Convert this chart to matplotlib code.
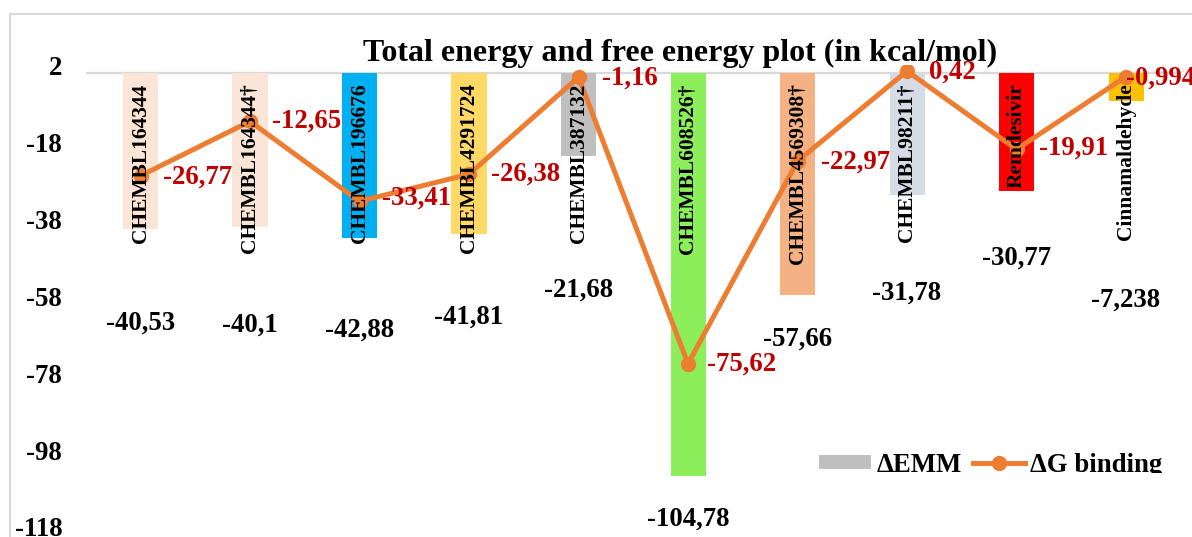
import matplotlib
matplotlib.use("Agg")
import matplotlib.pyplot as plt
from matplotlib.patches import Rectangle, Patch
from matplotlib.lines import Line2D
from matplotlib.transforms import Bbox, TransformedBbox

# ---- data -------------------------------------------------------------
compounds = ["CHEMBL164344", "CHEMBL164344\u2020", "CHEMBL196676", "CHEMBL4291724",
             "CHEMBL387132", "CHEMBL608526\u2020", "CHEMBL4569308\u2020",
             "CHEMBL98211\u2020", "Remdesivir", "Cinnamaldehyde"]
delta_emm = [-40.53, -40.1, -42.88, -41.81, -21.68, -104.78, -57.66, -31.78, -30.77, -7.238]
delta_g = [-26.77, -12.65, -33.41, -26.38, -1.16, -75.62, -22.97, 0.42, -19.91, -0.994]
y_ticks = [2, -18, -38, -58, -78, -98, -118]

# ---- styling ----------------------------------------------------------
bar_colors = ["#FBE5D6", "#FBE5D6", "#00B0F0", "#FFD966", "#BFBFBF",
              "#8CEE5A", "#F4B183", "#D6DCE5", "#FF0000", "#FFC000"]
emm_label_y = [-65.0, -65.5, -66.8, -63.4, -56.4, -115.9, -69.1, -57.2, -48.1, -59.0]
g_label_dx = [16, 16, 16, 16, 17, 14, 17, 16, 16, 0]
g_label_dy = [-1, 0, 2, 0, -1, 0, -1, -1, 1, -1]
line_color = "#ED7D31"
label_red = "#C00000"
axis_gray = "#D9D9D9"
value_size = 19.3

plt.rcParams["font.family"] = ["Liberation Serif", "DejaVu Serif"]
plt.rcParams["font.weight"] = "bold"

W, H = 1192, 537
fig = plt.figure(figsize=(W / 100, H / 100), dpi=100)
ax = fig.add_axes([85.75 / W, 1 - 527 / H, (1180.8 - 85.75) / W, (527 - 65) / H])

x = list(range(len(compounds)))
ax.bar(x, delta_emm, width=0.32, color=bar_colors, zorder=2)
ax.axhline(0, color=axis_gray, lw=1.6, zorder=1)
ax.plot(x, delta_g, color=line_color, lw=3.6, marker="o", markersize=10,
        solid_capstyle="round", zorder=3)

ax.set_xlim(-0.5, len(compounds) - 0.5)
ax.set_ylim(y_ticks[-1], y_ticks[0])
ax.set_yticks(y_ticks)
ax.set_yticklabels([str(t) for t in y_ticks], fontsize=value_size, fontweight="bold")
ax.tick_params(axis="y", length=0, pad=17)
ax.set_xticks([])
for s in ax.spines.values():
    s.set_visible(False)

def fmt(v):
    return f"{v:g}".replace(".", ",")

# compound names written vertically inside the bars
for xi, name in zip(x, compounds):
    ax.text(xi, -2.8, name, rotation=90, ha="center", va="top",
            fontsize=15.5, fontweight="bold", color="black", zorder=4)

# ΔEMM values
for xi, v, ly in zip(x, delta_emm, emm_label_y):
    ax.text(xi, ly, fmt(v), ha="center", va="center", fontsize=value_size,
            fontweight="bold", color="black", zorder=4)

# ΔG binding values
for xi, v, dx, dy in zip(x, delta_g, g_label_dx, g_label_dy):
    ax.annotate(fmt(v), (xi, v), xytext=(dx, dy), textcoords="offset points",
                ha="left", va="center", fontsize=value_size, fontweight="bold",
                color=label_red, zorder=5, annotation_clip=False)

fig.text(680 / W, 1 - 61 / H, "Total energy and free energy plot (in kcal/mol)",
         ha="center", va="baseline", fontsize=23, fontweight="bold")

# chart border
fig.patches.append(Rectangle((10 / W, -0.1), 1.2, 1.1 - 14 / H, transform=fig.transFigure,
                             fill=False, ec=axis_gray, lw=1.5))

handles = [Patch(facecolor="#BFBFBF", edgecolor="none"),
           Line2D([], [], color=line_color, lw=3.6, marker="o", markersize=10)]
leg = fig.legend(handles, ["\u0394EMM", "\u0394G binding"], ncol=2, frameon=False,
                 loc="center left", bbox_to_anchor=(819 / W, 1 - 465 / H),
                 prop={"size": value_size, "weight": "bold"}, handlelength=1.95,
                 handleheight=0.48, handletextpad=0.2, columnspacing=0.4,
                 borderpad=0, borderaxespad=0)
clip = TransformedBbox(Bbox([[0, 64 / H], [1, 1]]), fig.transFigure)
for t in leg.get_texts():
    t.set_clip_box(clip)
    t.set_clip_on(True)

fig.savefig("out.png", dpi=100)
